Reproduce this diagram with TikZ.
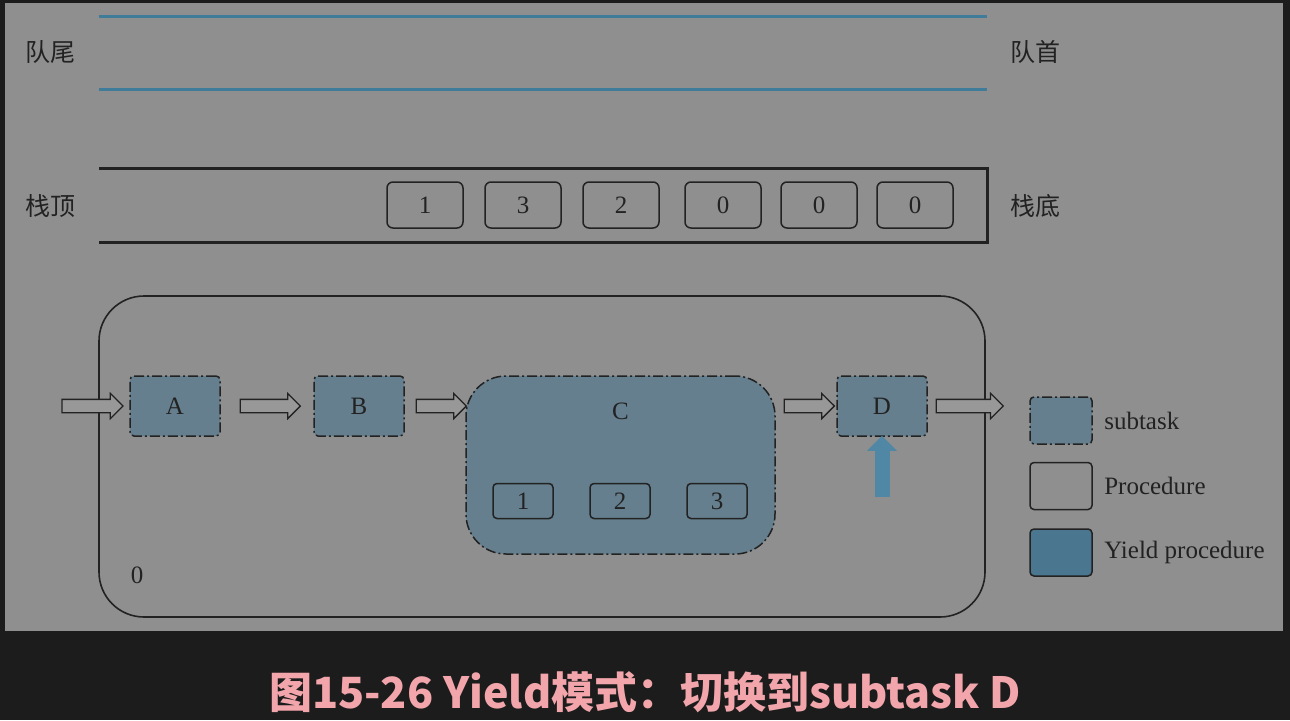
\documentclass[tikz,border=0pt]{standalone}
\usepackage{fontspec}
\setmainfont{Liberation Serif}
\newfontfamily\cjk{Noto Sans CJK SC}
\usetikzlibrary{positioning,calc,shapes.arrows,arrows.meta}
\definecolor{bgdark}{HTML}{1C1C1C}
\definecolor{panel}{HTML}{8F8F8F}
\definecolor{ink}{HTML}{222222}
\definecolor{taskblue}{HTML}{657F8E}
\definecolor{yieldblue}{HTML}{4B7690}
\definecolor{pushblue}{HTML}{4F87A5}
\definecolor{queueblue}{HTML}{3E7C9A}
\definecolor{arrowgrey}{HTML}{989898}
\definecolor{capink}{HTML}{F2A6AC}
\tikzset{
  txt/.style={text=ink,font=\fontsize{25}{30}\selectfont},
  side/.style={text=ink,font=\cjk\fontsize{25}{30}\selectfont},
  dashdot/.style={dash pattern=on 10pt off 3pt on 2pt off 3pt},
  subtask/.style={txt,draw=ink,fill=taskblue,line width=1.5pt,dashdot,
    rounded corners=4pt,minimum width=90pt,minimum height=60pt,inner sep=0pt},
  slot/.style={txt,draw=ink,line width=1.5pt,rounded corners=6pt,
    minimum width=76pt,minimum height=46pt,inner sep=0pt},
  small slot/.style={slot,minimum width=60pt,minimum height=35pt,rounded corners=4pt},
  flow/.style={single arrow,draw=ink,fill=arrowgrey,line width=1.3pt,inner sep=6pt,
    single arrow head extend=6pt,single arrow tip angle=90},
  key/.style={draw=ink,line width=1.5pt,rounded corners=4pt,minimum width=62pt,
    minimum height=47pt,inner sep=0pt}
}
\begin{document}
\begin{tikzpicture}[x=1pt,y=-1pt]
\useasboundingbox (0,0) rectangle (1290,720);
\fill[bgdark] (0,0) rectangle (1290,720);
\fill[panel] (5,3) rectangle (1283,631);
% queue
\coordinate (q1) at (99,16);
\coordinate (q2) at (987,16);
\coordinate (q3) at (99,89);
\coordinate (q4) at (987,89);
\draw[queueblue,line width=3pt] (q1) -- (q2);
\draw[queueblue,line width=3pt] (q3) -- (q4);
\node[side] (tail) at (50,52) {队尾};
\node[side] (head) at (1035,52) {队首};
% stack
\coordinate (s1) at (99,168);
\coordinate (s2) at (987,168);
\coordinate (s3) at (987,242);
\coordinate (s4) at (99,242);
\draw[ink,line width=3pt] (s1) -- (s2) -- (s3) -- (s4);
\node[side] (top) at (50,206) {栈顶};
\node[side] (bottom) at (1035,206) {栈底};
\foreach \x/\v [count=\i] in {425/1,523/3,621/2,723/0,819/0,915/0}
  \node[slot] (slot\i) at (\x,205) {\v};
% procedure
\node[draw=ink,line width=1.6pt,rounded corners=45pt,minimum width=886pt,
  minimum height=321pt] (proc) at (542,456.5) {};
\node[txt] (zero) at (137,575) {0};
\node[subtask] (A) at (175,406) {A};
\node[subtask] (B) at (359,406) {B};
\node[subtask,rounded corners=40pt,minimum width=309pt,minimum height=178pt] (C) at (620.5,465) {};
\node[txt,below=24pt of C.north] (Clabel) {C};
\node[subtask] (D) at (882,406) {D};
\foreach \x [count=\i] in {523,620,717}
  \node[small slot] (c\i) at (\x,501) {\i};
% flow arrows
\coordinate (in) at (59,406);
\coordinate (out) at (1003,406);
\node[flow,minimum height=61pt] (fa) at ($(in)!0.5!(A.west)+(-5,0)$) {};
\node[flow,minimum height=60pt] (fb) at ($(A.east)!0.5!(B.west)$) {};
\node[flow,minimum height=50pt] (fc) at ($(B.east)!0.5!(B.east -| C.west)+(3,0)$) {};
\node[flow,minimum height=50pt] (fd) at ($(D.west -| C.east)!0.5!(D.west)$) {};
\node[flow,minimum height=67pt] (fe) at ($(D.east)!0.5!(out)+(1,0)$) {};
% switch to D
\coordinate (push) at (882,497);
\draw[pushblue,line width=15pt,-{Triangle[width=29pt,length=15pt]}] (push) -- ([yshift=1pt]D.south);
% legend
\node[key,fill=taskblue,dashdot] (k1) at (1061,420.5) {};
\node[key] (k2) at (1061,486) {};
\node[key,fill=yieldblue] (k3) at (1061,552.5) {};
\node[txt,right=8pt of k1] {subtask};
\node[txt,right=8pt of k2] {Procedure};
\node[txt,right=8pt of k3] {Yield procedure};
% caption
\node[text=capink,font=\cjk\bfseries\fontsize{43}{50}\selectfont] (cap) at (645,692) {图15-26 Yield模式：切换到subtask D};
\end{tikzpicture}
\end{document}
